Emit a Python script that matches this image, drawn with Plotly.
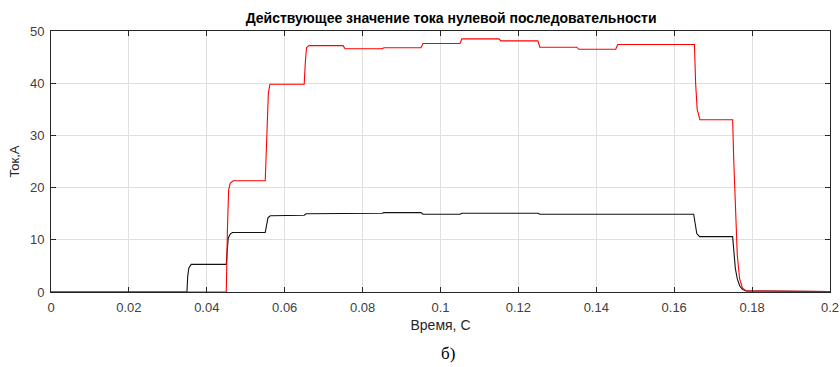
import plotly.graph_objects as go

# Время, с — красная кривая
t_red = [0, 0.0450, 0.0453, 0.0456, 0.0460, 0.0468, 0.0550, 0.0553, 0.0555, 0.0558, 0.0562,
         0.0650, 0.0653, 0.0656, 0.0662, 0.0750, 0.0755, 0.0850, 0.0855, 0.0950, 0.0955,
         0.1050, 0.1055, 0.1150, 0.1155, 0.1250, 0.1255, 0.1350, 0.1355, 0.1450, 0.1455,
         0.1652, 0.1655, 0.1659, 0.1666, 0.1750, 0.1753, 0.1757, 0.1762, 0.1768, 0.1775,
         0.1785, 0.2000]
i_red = [0, 0, 12, 19.5, 20.8, 21.3, 21.3, 28, 35, 38, 39.8,
         39.8, 44, 46.8, 47.2, 47.2, 46.6, 46.6, 46.8, 46.8, 47.6,
         47.6, 48.5, 48.5, 48.1, 48.1, 46.9, 46.9, 46.5, 46.5, 47.4,
         47.4, 40, 35.0, 33.0, 33.0, 25, 15, 7, 2.5, 0.8,
         0.2, 0.1]

# Время, с — чёрная кривая
t_blk = [0, 0.0349, 0.0351, 0.0354, 0.0360, 0.0450, 0.0452, 0.0455, 0.0460, 0.0466,
         0.0550, 0.0553, 0.0557, 0.0563, 0.0650, 0.0655, 0.0750, 0.0755, 0.0850, 0.0855,
         0.0950, 0.0955, 0.1050, 0.1055, 0.1250, 0.1255, 0.1650, 0.1653, 0.1658, 0.1665,
         0.1750, 0.1753, 0.1757, 0.1762, 0.1768, 0.1775, 0.1785, 0.2000]
i_blk = [0, 0, 3.0, 4.6, 5.3, 5.3, 7.5, 10.3, 11.1, 11.4,
         11.4, 12.5, 14.2, 14.6, 14.7, 15.0, 15.0, 15.1, 15.1, 15.2,
         15.2, 14.9, 14.9, 15.1, 15.1, 14.9, 14.9, 13.5, 11.2, 10.6,
         10.6, 8, 4.5, 2.5, 1.2, 0.5, 0.2, 0.1]

x_ticks = [0, 0.02, 0.04, 0.06, 0.08, 0.1, 0.12, 0.14, 0.16, 0.18, 0.2]
x_labels = ["0", "0.02", "0.04", "0.06", "0.08", "0.1", "0.12", "0.14", "0.16", "0.18", "0.2"]
y_ticks = [0, 10, 20, 30, 40, 50]

SANS = "Liberation Sans, Arial"

fig = go.Figure()
fig.add_trace(go.Scatter(x=t_blk, y=i_blk, mode="lines",
                         line=dict(color="#111111", width=1.1), showlegend=False))
fig.add_trace(go.Scatter(x=t_red, y=i_red, mode="lines",
                         line=dict(color="#FF0000", width=1.1), showlegend=False))

axis_common = dict(
    showline=True, linecolor="#262626", linewidth=1, mirror="ticks",
    ticks="inside", ticklen=5, tickcolor="#262626", tickwidth=1,
    showgrid=True, gridcolor="#DFDFDF", gridwidth=1, zeroline=False,
    automargin=False,
    tickfont=dict(family=SANS, size=13, color="#404040"),
)

fig.update_xaxes(range=[0, 0.2], tickvals=x_ticks, ticktext=x_labels,
                 ticklabelstandoff=3,
                 title=dict(text="Время, С", standoff=6,
                            font=dict(family=SANS, size=14, color="#262626")),
                 **axis_common)
fig.update_yaxes(range=[0, 50], tickvals=y_ticks,
                 ticklabelstandoff=3,
                 title=dict(text="Ток,А", standoff=7,
                            font=dict(family=SANS, size=13, color="#262626")),
                 **axis_common)

fig.update_layout(
    width=840, height=367,
    margin=dict(l=51, r=10, t=31, b=75),
    paper_bgcolor="white", plot_bgcolor="white",
    title=dict(text="<b>Действующее значение тока нулевой последовательности</b>",
               x=0.537, xanchor="center", y=0.951, yanchor="middle",
               font=dict(family=SANS, size=14, color="#000000")),
)

# Подпись рисунка под осью
fig.add_annotation(text="б)", xref="paper", yref="paper", x=0.51, y=-0.235,
                   xanchor="center", yanchor="middle", showarrow=False,
                   font=dict(family="Liberation Serif, Times New Roman", size=17, color="#000000"))

fig.write_html("out.html")
